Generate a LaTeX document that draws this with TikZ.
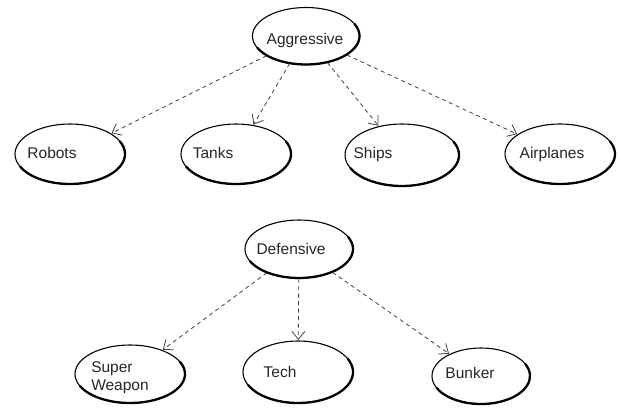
\documentclass[tikz,border=0pt]{standalone}
\usepackage{fontspec}
\setmainfont{Liberation Sans}
\usetikzlibrary{shapes.geometric,arrows.meta}
\tikzset{
  oval/.style={draw=black, ellipse, line width=1.1pt, fill=white, inner sep=0pt},
  lbl/.style={font=\fontsize{15.5pt}{18pt}\selectfont, inner sep=0pt, text=black!85},
  dep/.style={draw=black!75, line width=0.8pt, dash pattern=on 4pt off 3.5pt,
    -{Straight Barb[length=8pt,width=13pt,line width=0.8pt]}, shorten >=0.5pt}
}
\newcommand{\ovl}[5]{%
  \node[oval, minimum width=2*#4 pt, minimum height=2*#5 pt] (#1) at (#2,#3) {};
  \draw[line width=2.3pt, line cap=round] (#2,#3) ++(205:#4 and #5)
    arc[start angle=205, end angle=385, x radius=#4, y radius=#5];
}
\begin{document}
\begin{tikzpicture}[x=1pt,y=1pt]
\useasboundingbox (0,0) rectangle (620,-407);
% ellipses
\ovl{agg}{306}{-36}{53.5}{28.5}
\ovl{rob}{70}{-154}{55}{30}
\ovl{tan}{236}{-154}{55}{30}
\ovl{shi}{402}{-155}{57}{31}
\ovl{air}{560}{-154}{55}{30}
\ovl{def}{299}{-249}{54}{29}
\ovl{sup}{130}{-374}{55}{29}
\ovl{tec}{298}{-372}{55}{31}
\ovl{bun}{481}{-376}{49}{28}
% labels
\node[lbl] (taggr) at (305,-40) {Aggressive};
\node[lbl] (trob) at (52,-153) {Robots};
\node[lbl] (ttan) at (213,-153) {Tanks};
\node[lbl] (tshi) at (373,-154) {Ships};
\node[lbl] (tair) at (552,-154) {Airplanes};
\node[lbl] (tdef) at (291,-249) {Defensive};
\node[lbl, align=left] (tsup) at (120,-378) {Super\\Weapon};
\node[lbl] (ttec) at (280,-372) {Tech};
\node[lbl] (tbun) at (470,-373) {Bunker};
% connectors
\draw[dep] (agg) -- (rob);
\draw[dep] (agg) -- (tan);
\draw[dep] (agg) -- (shi);
\draw[dep] (agg) -- (air);
\draw[dep] (def) -- (sup);
\draw[dep] (def) -- (tec);
\draw[dep] (def) -- (bun);
\end{tikzpicture}
\end{document}
